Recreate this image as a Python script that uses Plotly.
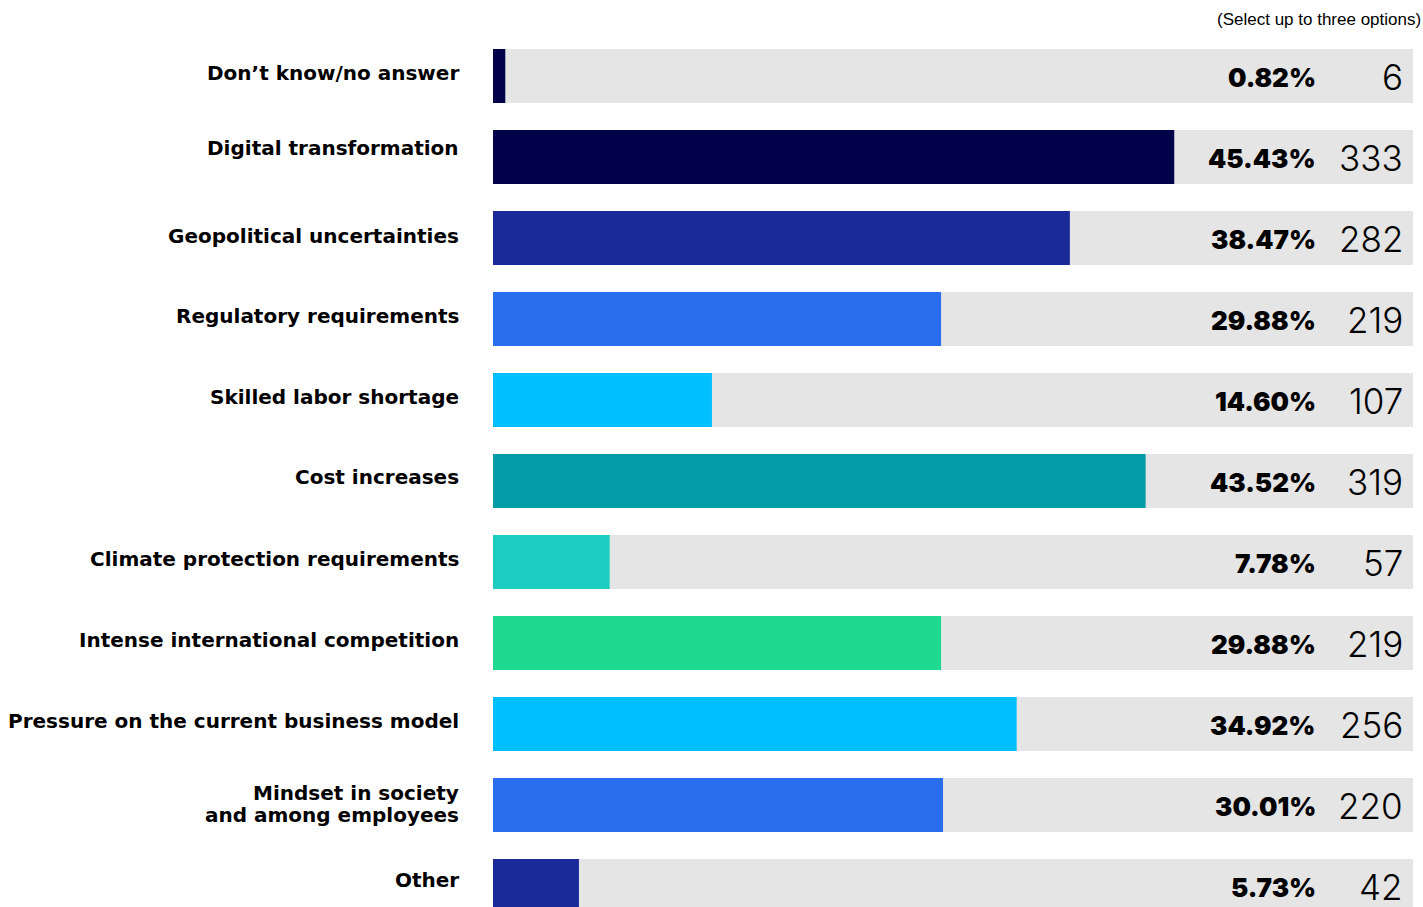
import plotly.graph_objects as go

# Survey responses (multiple answers allowed)
categories = [
    "Don’t know/no answer",
    "Digital transformation",
    "Geopolitical uncertainties",
    "Regulatory requirements",
    "Skilled labor shortage",
    "Cost increases",
    "Climate protection requirements",
    "Intense international competition",
    "Pressure on the current business model",
    "Mindset in society<br>and among employees",
    "Other",
]
shares = [0.82, 45.43, 38.47, 29.88, 14.60, 43.52, 7.78, 29.88, 34.92, 30.01, 5.73]
counts = [6, 333, 282, 219, 107, 319, 57, 219, 256, 220, 42]
bar_colors = [
    "#02024a", "#02024a", "#1a2b99", "#2a6def", "#00bfff", "#029ba6",
    "#1bccc0", "#1ed98f", "#00bfff", "#2a6def", "#1a2b99",
]
note = "(Select up to three options)"

# small vertical nudges (px) of the category labels
label_nudge = [3, 9, 2, 3, 3, 4, 3, 3, 3, 1, 6]

# length of the grey track behind each bar (axis units, %)
TRACK = 61.35

W, H = 1423, 907
LEFT, RIGHT = 493, 10
ROW = 81            # px between bar centres
FIRST = 76          # px from top to first bar centre
LINE = 22           # px between lines of a wrapped label

pos = list(range(len(categories)))

fig = go.Figure()
fig.add_trace(go.Bar(
    y=pos, x=[TRACK] * len(pos), orientation="h",
    marker=dict(color="#e5e5e5", line=dict(width=0)),
    width=54 / ROW, hoverinfo="skip", showlegend=False,
))
fig.add_trace(go.Bar(
    y=pos, x=shares, orientation="h",
    marker=dict(color=bar_colors, line=dict(width=0)),
    width=54 / ROW, showlegend=False,
))

label_font = dict(family="DejaVu Sans", size=20, color="#000000", weight="bold")
pct_font = dict(family="Inter", size=26, color="#000000", weight=900)
cnt_font = dict(family="Inter", size=35, color="#000000", weight=300)

for i, (cat, s, c) in enumerate(zip(categories, shares, counts)):
    lines = cat.split("<br>")
    n = len(lines)
    for k, line in enumerate(lines):
        offset = ((n - 1) / 2 - k) * LINE
        fig.add_annotation(x=0, y=i, xref="x", yref="y", text=line,
                           showarrow=False, xanchor="right", yanchor="middle",
                           align="right", xshift=-32,
                           yshift=label_nudge[i] + offset, font=label_font)
    fig.add_annotation(x=TRACK, y=i, xref="x", yref="y", text=f"{s:.2f}%",
                       showarrow=False, xanchor="right", yanchor="middle",
                       xshift=-95, yshift=-1, font=pct_font)
    fig.add_annotation(x=TRACK, y=i, xref="x", yref="y", text=str(c),
                       showarrow=False, xanchor="right", yanchor="middle",
                       valign="middle", height=36,
                       xshift=-8, yshift=-1, font=cnt_font)

fig.add_annotation(x=(1423 - LEFT) / (W - LEFT - RIGHT), y=1 - 20 / H,
                   xref="paper", yref="paper", text=note, showarrow=False,
                   xanchor="right", yanchor="middle",
                   font=dict(family="Liberation Sans", size=17, color="#000000"))

fig.update_layout(
    width=W, height=H, barmode="overlay",
    margin=dict(l=LEFT, r=RIGHT, t=0, b=0, pad=0),
    paper_bgcolor="white", plot_bgcolor="white",
    xaxis=dict(range=[0, TRACK], visible=False, fixedrange=True),
    yaxis=dict(range=[(H - FIRST) / ROW, -FIRST / ROW], visible=False,
               fixedrange=True),
)

fig.write_html("out.html", config={"displayModeBar": False})
